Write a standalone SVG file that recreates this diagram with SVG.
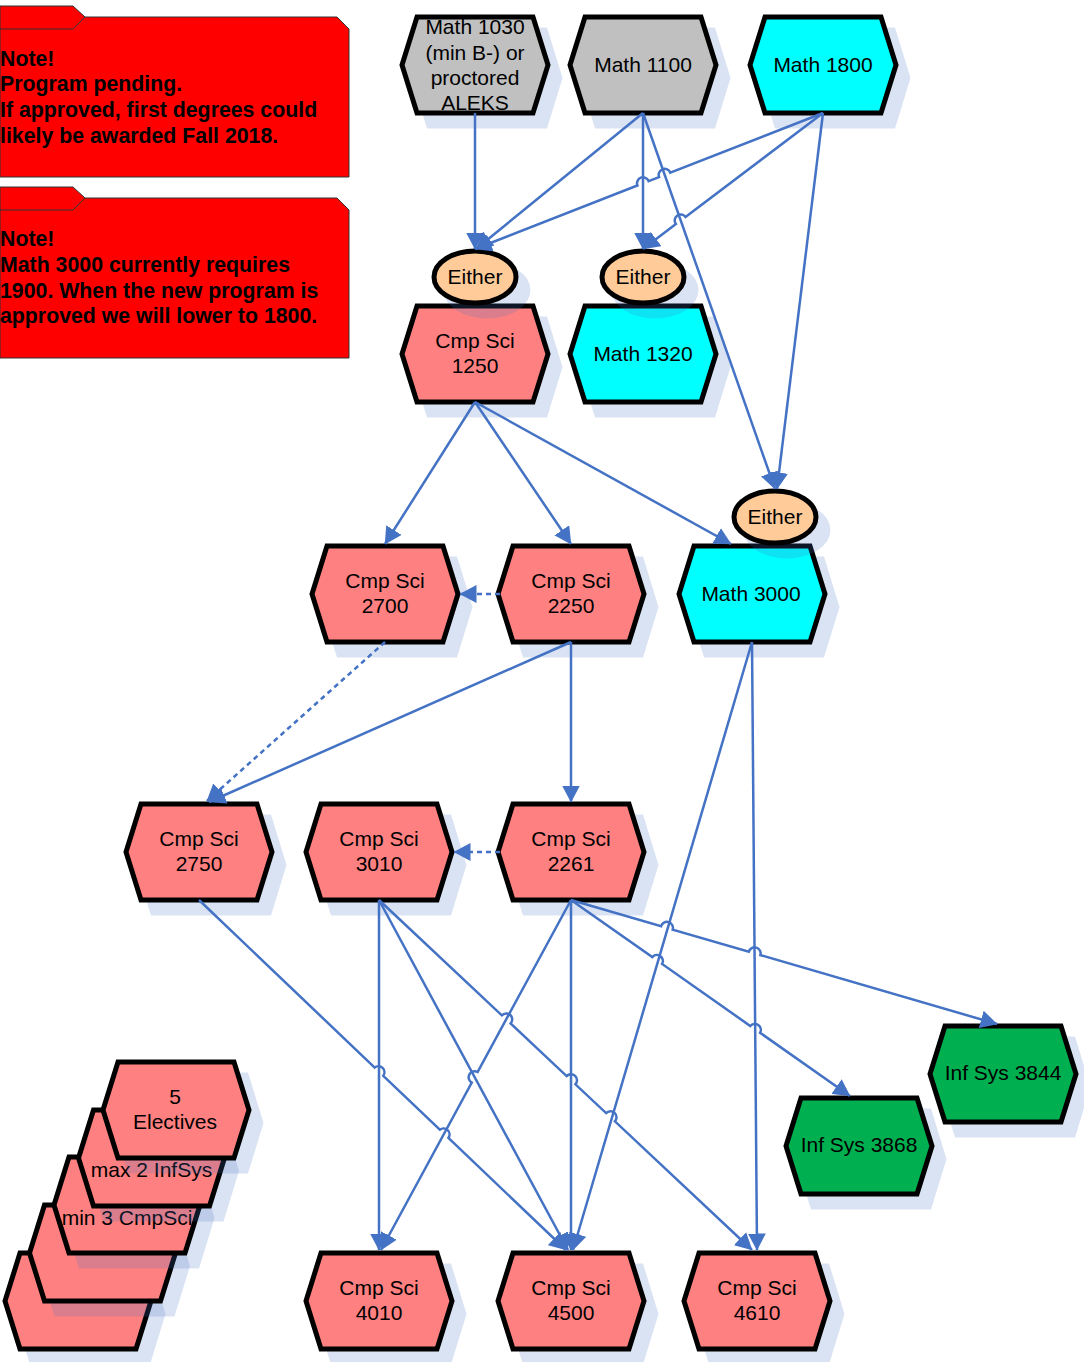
<svg xmlns="http://www.w3.org/2000/svg" width="1084" height="1362" viewBox="0 0 1084 1362">
<style>
.hx{stroke:#000;stroke-width:5;stroke-linejoin:miter}
.pk{fill:#ff8080}.cy{fill:#00ffff}.gy{fill:#c0c0c0}.gn{fill:#00b050}.pe{fill:#ffcc99}
.sh{fill:#4472c4;fill-opacity:0.2}
.t{font-family:"Liberation Sans",Arial,sans-serif;font-size:21px;text-anchor:middle;fill:#000}
.nt{font-family:"Liberation Sans",Arial,sans-serif;font-size:21.3px;font-weight:bold;fill:#000}
.nb{fill:#ff0000;stroke:#333;stroke-width:1}
.c{fill:none;stroke:#4472c4;stroke-width:2.5;marker-end:url(#ah)}
.d{stroke-dasharray:5 4}
</style>
<defs>
<marker id="ah" viewBox="0 0 17 18" refX="16.5" refY="9" markerWidth="17" markerHeight="18" markerUnits="userSpaceOnUse" orient="auto">
<path d="M0,0 L17,9 L0,18 Z" fill="#4472c4"/>
</marker>
<path id="hx" d="M-73,0 L-58,-48 L58,-48 L73,0 L58,48 L-58,48 Z"/>
<path id="hs" d="M-75.5,0 L-60,-50.5 L60,-50.5 L75.5,0 L60,50.5 L-60,50.5 Z"/>
</defs>

<g id="note1">
<polygon class="nb" points="0,17 337,17 349,29 349,177 0,177"/>
<polygon class="nb" points="0,6 73,6 85,17 73,29 0,29"/>
<text class="nt" x="0" y="65.5">Note!</text>
<text class="nt" x="0" y="91">Program pending.</text>
<text class="nt" x="0" y="117">If approved, first degrees could</text>
<text class="nt" x="0" y="142.5">likely be awarded Fall 2018.</text>
</g>
<g id="note2">
<polygon class="nb" points="0,198 337,198 349,210 349,358 0,358"/>
<polygon class="nb" points="0,187 73,187 85,198 73,210 0,210"/>
<text class="nt" x="0" y="246">Note!</text>
<text class="nt" x="0" y="272">Math 3000 currently requires</text>
<text class="nt" x="0" y="297.5">1900. When the new program is</text>
<text class="nt" x="0" y="323">approved we will lower to 1800.</text>
</g>

<g id="math1030">
<use href="#hs" x="487" y="78" class="sh"/>
<use href="#hx" x="475" y="65" class="gy"/>
<text class="t" x="475" y="34">Math 1030</text>
<text class="t" x="475" y="60">(min B-) or</text>
<text class="t" x="475" y="85">proctored</text>
<text class="t" x="475" y="110">ALEKS</text>
<use href="#hx" x="475" y="65" class="hx" fill="none"/>
</g>
<g id="math1100">
<use href="#hs" x="655" y="78" class="sh"/>
<use href="#hx" x="643" y="65" class="hx gy"/>
<text class="t" x="643" y="71.5">Math 1100</text>
</g>
<g id="math1800">
<use href="#hs" x="835" y="78" class="sh"/>
<use href="#hx" x="823" y="65" class="hx cy"/>
<text class="t" x="823" y="71.5">Math 1800</text>
</g>
<g id="cs1250">
<use href="#hs" x="487" y="367" class="sh"/>
<use href="#hx" x="475" y="354" class="hx pk"/>
<text class="t" x="475" y="347.5">Cmp Sci</text>
<text class="t" x="475" y="372.5">1250</text>
</g>
<g id="math1320">
<use href="#hs" x="655" y="367" class="sh"/>
<use href="#hx" x="643" y="354" class="hx cy"/>
<text class="t" x="643" y="360.5">Math 1320</text>
</g>
<g id="cs2700">
<use href="#hs" x="397" y="607" class="sh"/>
<use href="#hx" x="385" y="594" class="hx pk"/>
<text class="t" x="385" y="587.5">Cmp Sci</text>
<text class="t" x="385" y="612.5">2700</text>
</g>
<g id="cs2250">
<use href="#hs" x="583" y="607" class="sh"/>
<use href="#hx" x="571" y="594" class="hx pk"/>
<text class="t" x="571" y="587.5">Cmp Sci</text>
<text class="t" x="571" y="612.5">2250</text>
</g>
<g id="math3000">
<use href="#hs" x="764" y="607" class="sh"/>
<use href="#hx" x="752" y="594" class="hx cy"/>
<text class="t" x="751" y="600.5">Math 3000</text>
</g>
<g id="cs2750">
<use href="#hs" x="211" y="865" class="sh"/>
<use href="#hx" x="199" y="852" class="hx pk"/>
<text class="t" x="199" y="845.5">Cmp Sci</text>
<text class="t" x="199" y="870.5">2750</text>
</g>
<g id="cs3010">
<use href="#hs" x="391" y="865" class="sh"/>
<use href="#hx" x="379" y="852" class="hx pk"/>
<text class="t" x="379" y="845.5">Cmp Sci</text>
<text class="t" x="379" y="870.5">3010</text>
</g>
<g id="cs2261">
<use href="#hs" x="583" y="865" class="sh"/>
<use href="#hx" x="571" y="852" class="hx pk"/>
<text class="t" x="571" y="845.5">Cmp Sci</text>
<text class="t" x="571" y="870.5">2261</text>
</g>
<g id="is3844">
<use href="#hs" x="1015" y="1087" class="sh"/>
<use href="#hx" x="1003" y="1074" class="hx gn"/>
<text class="t" x="1003" y="1079.5">Inf Sys 3844</text>
</g>
<g id="is3868">
<use href="#hs" x="871" y="1159" class="sh"/>
<use href="#hx" x="859" y="1146" class="hx gn"/>
<text class="t" x="859" y="1151.5">Inf Sys 3868</text>
</g>
<g id="cs4010">
<use href="#hs" x="391" y="1314" class="sh"/>
<use href="#hx" x="379" y="1301" class="hx pk"/>
<text class="t" x="379" y="1294.5">Cmp Sci</text>
<text class="t" x="379" y="1319.5">4010</text>
</g>
<g id="cs4500">
<use href="#hs" x="583" y="1314" class="sh"/>
<use href="#hx" x="571" y="1301" class="hx pk"/>
<text class="t" x="571" y="1294.5">Cmp Sci</text>
<text class="t" x="571" y="1319.5">4500</text>
</g>
<g id="cs4610">
<use href="#hs" x="769" y="1314" class="sh"/>
<use href="#hx" x="757" y="1301" class="hx pk"/>
<text class="t" x="757" y="1294.5">Cmp Sci</text>
<text class="t" x="757" y="1319.5">4610</text>
</g>

<g id="electives">
<use href="#hs" x="90" y="1314" class="sh"/>
<use href="#hx" x="78" y="1301" class="hx pk"/>
<use href="#hs" x="114.5" y="1266" class="sh"/>
<use href="#hx" x="102.5" y="1253" class="hx pk"/>
<use href="#hs" x="139" y="1218" class="sh"/>
<use href="#hx" x="127" y="1205" class="hx pk"/>
<text class="t" x="127" y="1224.5">min 3 CmpSci</text>
<use href="#hs" x="163.5" y="1171" class="sh"/>
<use href="#hx" x="151.5" y="1158" class="hx pk"/>
<text class="t" x="151.5" y="1176.5">max 2 InfSys</text>
<use href="#hs" x="188" y="1123" class="sh"/>
<use href="#hx" x="176" y="1110" class="hx pk"/>
<text class="t" x="175" y="1103.5">5</text>
<text class="t" x="175" y="1128.5">Electives</text>
</g>

<g id="either1">
<ellipse cx="487" cy="290" rx="43.5" ry="28.5" class="sh"/>
<ellipse cx="475" cy="277" rx="41" ry="26" class="hx pe"/>
<text class="t" x="475" y="284">Either</text>
</g>
<g id="either2">
<ellipse cx="655" cy="290" rx="43.5" ry="28.5" class="sh"/>
<ellipse cx="643" cy="277" rx="41" ry="26" class="hx pe"/>
<text class="t" x="643" y="284">Either</text>
</g>
<g id="either3">
<ellipse cx="787" cy="530" rx="43.5" ry="28.5" class="sh"/>
<ellipse cx="775" cy="517" rx="41" ry="26" class="hx pe"/>
<text class="t" x="775" y="524">Either</text>
</g>

<g id="connectors">
<path class="c" d="M475,113 L475,249"/>
<path class="c" d="M643,113 L476,249"/>
<path class="c" d="M823,113 L670.3,172.7 A6,6 0 0 0 659.1,177.1 L648.6,181.1 A6,6 0 0 0 637.4,185.5 L475,249"/>
<path class="c" d="M643,113 L643,249"/>
<path class="c" d="M823,113 L685.5,216.9 A6,6 0 0 0 675.9,224.1 L643,249"/>
<path class="c" d="M643,113 L775,489"/>
<path class="c" d="M823,113 L777,489"/>
<path class="c" d="M475,402 L385,544"/>
<path class="c" d="M475,402 L571,544"/>
<path class="c" d="M475,402 L731,544"/>
<path class="c d" d="M500,594 L460,594"/>
<path class="c d" d="M385,642 L207,801"/>
<path class="c" d="M571,642 L209,802"/>
<path class="c" d="M571,642 L571,802"/>
<path class="c d" d="M500,852 L454,852"/>
<path class="c" d="M571,900 L661.1,926.2 A6,6 0 0 1 672.7,929.6 L748.8,951.7 A6,6 0 0 1 760.4,955.1 L997,1024"/>
<path class="c" d="M571,900 L652.3,957.1 A6,6 0 0 1 662.1,963.9 L750.3,1026 A6,6 0 0 1 760.1,1032.8 L850,1096"/>
<path class="c" d="M571,900 L477.6,1072 A6,6 0 0 0 471.8,1082.6 L381,1250"/>
<path class="c" d="M571,900 L571,1250"/>
<path class="c" d="M752,642 L573,1250"/>
<path class="c" d="M752,642 L757,1250"/>
<path class="c" d="M379,900 L379,1250"/>
<path class="c" d="M379,900 L568,1250"/>
<path class="c" d="M379,900 L501.8,1015.3 A6,6 0 0 1 510.6,1023.5 L566.6,1076.1 A6,6 0 0 1 575.4,1084.3 L606.1,1113.1 A6,6 0 0 1 614.9,1121.3 L752,1250"/>
<path class="c" d="M199,900 L374.7,1067.6 A6,6 0 0 1 383.3,1075.8 L439.8,1129.7 A6,6 0 0 1 448.4,1137.9 L566,1250"/>
</g>
</svg>
